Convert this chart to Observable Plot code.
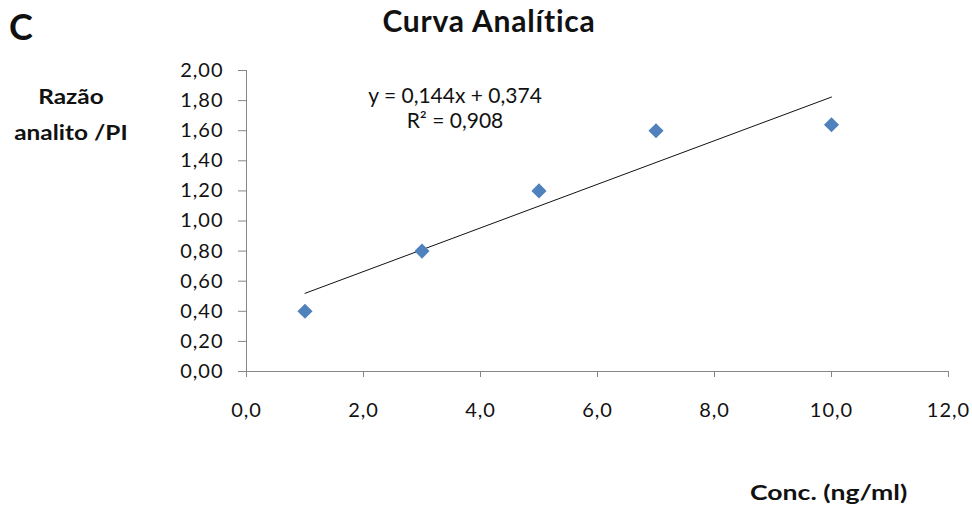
<!DOCTYPE html>
<html>
<head>
<meta charset="utf-8">
<script src="https://cdn.jsdelivr.net/npm/d3@7"></script>
<script src="https://cdn.jsdelivr.net/npm/@observablehq/plot@0.6"></script>
<style>
  html, body { margin: 0; padding: 0; background: #fff; }
  #wrap { position: relative; width: 972px; height: 508px; font-family: Lato, "Open Sans", sans-serif; color: #111; }
  .lbl { position: absolute; white-space: nowrap; }
  #panel { left: 9px; top: 5px; font-size: 36px; font-weight: bold; line-height: 1.2; }
  #title { left: 0; width: 972px; top: 2px; text-align: center; font-size: 30px; font-weight: bold; line-height: 1.2; letter-spacing: 0.8px; padding-left: 6px; box-sizing: border-box; }
  #ylab { left: 13px; top: 78px; width: 95px; text-align: center; font-size: 20px; font-weight: bold; line-height: 36px; transform: scaleX(1.22); transform-origin: 0 0; }
  #xlab { left: 750px; top: 482px; font-size: 20px; font-weight: bold; line-height: 1; transform: scaleX(1.33); transform-origin: 0 0; }
  #chart { position: absolute; left: 0; top: 0; }
  g[aria-label="y-axis tick label"] text, g[aria-label="x-axis tick label"] text { letter-spacing: 1px; }
  g[aria-label="equation"] text { letter-spacing: 0.5px; }
</style>
</head>
<body>
<div id="wrap">
  <div id="chart"></div>
  <div class="lbl" id="panel">C</div>
  <div class="lbl" id="title">Curva Analítica</div>
  <div class="lbl" id="ylab">Razão<br>analito /PI</div>
  <div class="lbl" id="xlab">Conc. (ng/ml)</div>
</div>
<script>
// Data
const conc = [1, 3, 5, 7, 10];
const ratio = [0.40, 0.80, 1.20, 1.60, 1.64];
const xTicks = [0, 2, 4, 6, 8, 10, 12];
const yTicks = [0, 0.2, 0.4, 0.6, 0.8, 1.0, 1.2, 1.4, 1.6, 1.8, 2.0];
const eqLines = ["y = 0,144x + 0,374", "R² = 0,908"];
const eqAnchor = [{x: 3.56, y: 1.831}, {x: 3.56, y: 1.665}];

const data = conc.map((c, i) => ({conc: c, ratio: ratio[i]}));
const eqData = eqLines.map((t, i) => ({text: t, x: eqAnchor[i].x, y: eqAnchor[i].y}));

const loc = d3.formatLocale({decimal: ",", thousands: ".", grouping: [3], currency: ["", ""]});
const fx = loc.format(".1f");
const fy = loc.format(".2f");
const axisGray = "#868686";

const chart = Plot.plot({
  width: 972,
  height: 508,
  marginLeft: 246,
  marginRight: 24,
  marginTop: 70,
  marginBottom: 137,
  style: {fontFamily: "Lato, 'Open Sans', sans-serif", fontSize: "20px", color: "#111", background: "transparent"},
  x: {domain: [0, 12], ticks: xTicks},
  y: {domain: [0, 2], ticks: yTicks},
  marks: [
    Plot.ruleY([0], {stroke: axisGray, strokeWidth: 1}),
    Plot.ruleX([0], {stroke: axisGray, strokeWidth: 1}),
    Plot.axisX({ticks: xTicks, tickFormat: fx, tickSize: 6, tickPadding: 25, stroke: axisGray, label: null, fill: "#111", dx: 0}),
    Plot.axisY({ticks: yTicks, tickFormat: fy, tickSize: 8, tickPadding: 15, stroke: axisGray, label: null, fill: "#111"}),
    Plot.linearRegressionY(data, {x: "conc", y: "ratio", ci: 0, stroke: "#111", strokeWidth: 1}),
    Plot.dot(data, {x: "conc", y: "ratio", symbol: "diamond2", r: 6.8, fill: "#4F81BD", stroke: "none"}),
    Plot.text(eqData, {x: "x", y: "y", text: "text", fontSize: 21, fill: "#111", dx: 0.25, ariaLabel: "equation"})
  ]
});
document.getElementById("chart").appendChild(chart);
</script>
</body>
</html>
